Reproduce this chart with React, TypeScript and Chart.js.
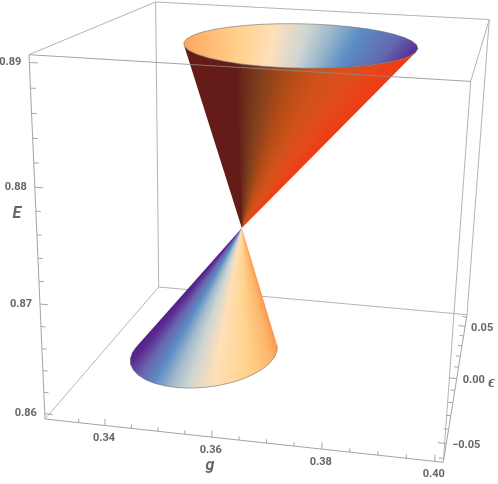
import React, { useEffect, useRef } from "react";
import { Chart, registerables } from "chart.js";

Chart.register(...registerables);

// ---- data ----
const gRange = [0.3285, 0.4015];
const epsRange = [-0.0625, 0.0625];
const eRange = [0.8595, 0.8906];

const gMajor = [0.34, 0.36, 0.38, 0.4];
const gMinor = [0.335, 0.345, 0.35, 0.355, 0.365, 0.37, 0.375, 0.385, 0.39, 0.395];
const eMajor = [0.86, 0.87, 0.88, 0.89];
const eMinor = [0.862, 0.864, 0.866, 0.868, 0.872, 0.874, 0.876, 0.878, 0.882, 0.884, 0.886, 0.888];
const epsMajor = [-0.05, 0, 0.05];
const epsMinor = [-0.06, -0.04, -0.03, -0.02, -0.01, 0.01, 0.02, 0.03, 0.04, 0.06];

const gTickLabels = ["0.34", "0.36", "0.38", "0.40"];
const eTickLabels = ["0.86", "0.87", "0.88", "0.89"];
const epsTickLabels = ["\u22120.05", "0.00", "0.05"];

const apex = { g: 0.3568, eps: 0, E: 0.87256 };

const upperRimE = 0.8901;
const upperRimG = [
  0.38925, 0.38796, 0.38608, 0.38365, 0.38076, 0.37749, 0.37395, 0.37023, 0.36644, 0.36273, 0.35918, 0.35591,
  0.35301, 0.35059, 0.3487, 0.34739, 0.34674, 0.34674, 0.34739, 0.34868, 0.35056, 0.35299, 0.35588, 0.35915,
  0.36269, 0.36641, 0.3702, 0.37391, 0.37746, 0.38073, 0.38363, 0.38605, 0.38794, 0.38925, 0.3899, 0.3899,
];
const upperRimEps = [
  0.00672, 0.01405, 0.02082, 0.02684, 0.03191, 0.03589, 0.03866, 0.04012, 0.04023, 0.03901, 0.03647, 0.0327,
  0.0278, 0.02195, 0.01529, 0.00804, 0.00042, -0.00733, -0.01498, -0.02231, -0.02908, -0.0351, -0.04017, -0.04415,
  -0.04692, -0.04838, -0.04849, -0.04727, -0.04473, -0.04096, -0.03606, -0.03021, -0.02355, -0.0163, -0.00868, -0.00093,
];

const lowerRimE = 0.8623;
const lowerRimG = [
  0.34239, 0.34093, 0.33982, 0.3391, 0.33879, 0.33891, 0.33943, 0.34035, 0.34165, 0.34328, 0.34518, 0.34731,
  0.34961, 0.352, 0.3544, 0.35674, 0.35896, 0.36098, 0.36275, 0.36421, 0.36532, 0.36604, 0.36635, 0.36623,
  0.36571, 0.36479, 0.36349, 0.36186,
];
const lowerRimEps = [
  -0.00361, -0.00798, -0.01278, -0.01786, -0.02306, -0.02822, -0.03318, -0.0378, -0.04192, -0.04544, -0.04824, -0.05024,
  -0.05137, -0.05161, -0.05093, -0.04937, -0.04697, -0.04381, -0.03997, -0.0356, -0.0308, -0.02572, -0.02052, -0.01536,
  -0.0104, -0.00578, -0.00166, 0.00186,
];

const innerStops: [number, string][] = [
  [0, "#fca65c"], [0.15, "#ffc07a"], [0.31, "#ffd596"], [0.435, "#ffdfbb"], [0.578, "#cdd5d3"],
  [0.68, "#97b6cc"], [0.785, "#5b8cc4"], [0.916, "#6368b0"], [1, "#5b2a8f"],
];
const outerStops: [number, string][] = [
  [0, "#651c19"], [0.25, "#651c19"], [0.29, "#6a2a1b"], [0.4, "#80401c"], [0.57, "#b44c18"],
  [0.72, "#d0521a"], [0.87, "#e24c1a"], [0.966, "#ec3f16"], [1, "#f23a10"],
];
const lowerStops: [number, string][] = [
  [0, "#51208a"], [0.04, "#5a2a90"], [0.12, "#6a64ae"], [0.205, "#5b8cc4"], [0.3, "#a2bacb"],
  [0.39, "#cdd5d3"], [0.53, "#ffdfb8"], [0.74, "#ffd48f"], [0.915, "#fdb76c"], [1, "#f9994f"],
];

// ---- fitted camera of the box ----
function project(g: number, eps: number, E: number) {
  const u = (g - gRange[0]) / (gRange[1] - gRange[0]);
  const v = (eps - epsRange[0]) / (epsRange[1] - epsRange[0]);
  const w = (E - eRange[0]) / (eRange[1] - eRange[0]);
  const d = 1 - 0.0502 * u + 0.2958 * v - 0.0951 * w;
  return {
    x: (45 + 376.05 * u + 160.64 * v - 18.76 * w) / d,
    y: (419 + 20.1 * u - 47.1 * v - 369.5 * w) / d,
  };
}

type P = { x: number; y: number };

const AXIS = "#b4b4b4";
const FRONT = "#a4a4a4";
const TEXT = "#666666";

function lineSet(pts: P[], color: string, width = 1) {
  return { data: pts, showLine: true, borderColor: color, borderWidth: width, pointRadius: 0, fill: false, tension: 0 };
}
function edge(a: number[], b: number[], color = AXIS) {
  return lineSet([project(a[0], a[1], a[2]), project(b[0], b[1], b[2])], color, 1);
}

function angleFrom(ap: P, p: P, start: number) {
  let a = Math.atan2(p.y - ap.y, p.x - ap.x) - start;
  while (a < 0) a += Math.PI * 2;
  return a;
}

function conic(chart: any, ap: P, rim: P[], stops: [number, string][], upward: boolean) {
  const xs = chart.scales.x;
  const ys = chart.scales.y;
  const cx = xs?.getPixelForValue(ap.x);
  const cy = ys?.getPixelForValue(ap.y);
  if (!Number.isFinite(cx) || !Number.isFinite(cy)) return "rgba(0,0,0,0)";
  const start = upward ? Math.PI / 2 : -Math.PI / 2;
  const angs = rim.map((p) => angleFrom(ap, p, start));
  const lo = Math.min(...angs);
  const hi = Math.max(...angs);
  const grad = chart.ctx.createConicGradient(start, cx, cy);
  stops.forEach(([t, c]) => {
    const a = upward ? lo + t * (hi - lo) : hi - t * (hi - lo);
    grad.addColorStop(a / (Math.PI * 2), c);
  });
  return grad;
}

function shape(pts: P[], bg: any) {
  return { data: pts, showLine: true, borderWidth: 0, borderColor: "transparent", pointRadius: 0, fill: "shape", tension: 0, backgroundColor: bg };
}

const labelPlugin = {
  id: "boxLabels",
  afterDraw(chart: any) {
    const { ctx, scales } = chart;
    const put = (text: string, p: P, dx: number, dy: number, font: string, col = TEXT) => {
      ctx.font = font;
      ctx.fillStyle = col;
      ctx.textAlign = "center";
      ctx.textBaseline = "middle";
      ctx.fillText(text, scales.x.getPixelForValue(p.x) + dx, scales.y.getPixelForValue(p.y) + dy);
    };
    const tickFont = "bold 11px Roboto";
    gMajor.forEach((g, i) => put(gTickLabels[i], project(g, epsRange[0], eRange[0]), -1, 13, tickFont));
    eMajor.forEach((e, i) => put(eTickLabels[i], project(gRange[0], epsRange[0], e), -19, 0, tickFont));
    epsMajor.forEach((e, i) => put(epsTickLabels[i], project(gRange[1], e, eRange[0]), i === 0 ? 20 : 17, 2, tickFont));
    const nameFont = "italic bold 16px Roboto";
    put("E", project(gRange[0], epsRange[0], 0.8778), -19, 0, nameFont);
    put("g", project(0.36, epsRange[0], eRange[0]), -2, 29, nameFont);
    put("\u03f5", project(gRange[1], 0, eRange[0]), 35, 4, nameFont);
  },
};

export default function App() {
  const ref = useRef<HTMLCanvasElement>(null);
  useEffect(() => {
    document.body.style.margin = "0";
    const [g0, g1] = gRange;
    const [p0, p1] = epsRange;
    const [e0, e1] = eRange;
    const ap = project(apex.g, apex.eps, apex.E);
    const upper = upperRimG.map((g, i) => project(g, upperRimEps[i], upperRimE));
    const lower = lowerRimG.map((g, i) => project(g, lowerRimEps[i], lowerRimE));

    // visible outer arcs run between the two silhouette tangents seen from the apex
    const upAngs = upper.map((p) => angleFrom(ap, p, Math.PI / 2));
    const upL = upAngs.indexOf(Math.min(...upAngs));
    const upR = upAngs.indexOf(Math.max(...upAngs));
    const upperFront: P[] = [];
    for (let i = upL; ; i = (i + 1) % upper.length) {
      upperFront.push(upper[i]);
      if (i === upR) break;
    }
    const lowAngs = lower.map((p) => angleFrom(ap, p, -Math.PI / 2));
    const lowL = lowAngs.indexOf(Math.max(...lowAngs));
    const lowR = lowAngs.indexOf(Math.min(...lowAngs));
    const lowerFront = lower.slice(lowL, lowR + 1);

    const painter: any[] = [];
    // back edges
    painter.push(edge([g0, p1, e0], [g1, p1, e0]));
    painter.push(edge([g0, p1, e0], [g0, p1, e1]));
    painter.push(edge([g1, p1, e0], [g1, p1, e1]));
    painter.push(edge([g0, p1, e1], [g1, p1, e1]));
    painter.push(edge([g0, p0, e0], [g0, p1, e0]));
    painter.push(edge([g0, p0, e1], [g0, p1, e1]));
    painter.push(edge([g1, p0, e1], [g1, p1, e1]));
    // surfaces
    painter.push(shape([...upper, upper[0]], (c: any) => conic(c.chart, ap, upper, innerStops, true)));
    painter.push(shape([ap, ...upperFront, ap], (c: any) => conic(c.chart, ap, upper, outerStops, true)));
    painter.push(lineSet([...upper, upper[0]], "rgba(110,110,110,0.75)", 0.8));
    painter.push(shape([ap, ...lowerFront, ap], (c: any) => conic(c.chart, ap, lower, lowerStops, false)));
    painter.push(lineSet(lowerFront, "rgba(110,110,110,0.75)", 0.8));
    // front edges
    painter.push(edge([g0, p0, e0], [g1, p0, e0], FRONT));
    painter.push(edge([g1, p0, e0], [g1, p1, e0], FRONT));
    painter.push(edge([g0, p0, e0], [g0, p0, e1], FRONT));
    painter.push(edge([g1, p0, e0], [g1, p0, e1]));
    painter.push(edge([g0, p0, e1], [g1, p0, e1], "rgba(140,140,140,0.8)"));
    // ticks
    gMajor.forEach((g) => painter.push(edge([g, p0, e0], [g, p0, e0 + 0.0006], FRONT)));
    gMinor.forEach((g) => painter.push(edge([g, p0, e0], [g, p0, e0 + 0.00035], FRONT)));
    eMajor.forEach((e) => painter.push(edge([g0, p0, e], [g0 + 0.0015, p0, e], FRONT)));
    eMinor.forEach((e) => painter.push(edge([g0, p0, e], [g0 + 0.0009, p0, e], FRONT)));
    epsMajor.forEach((e) => painter.push(edge([g1, e, e0], [g1 - 0.0015, e, e0], FRONT)));
    epsMinor.forEach((e) => painter.push(edge([g1, e, e0], [g1 - 0.0009, e, e0], FRONT)));

    const chart = new Chart(ref.current!, {
      type: "scatter",
      data: { datasets: painter.reverse() },
      options: {
        animation: false,
        responsive: false,
        layout: { padding: 0 },
        plugins: { legend: { display: false }, tooltip: { enabled: false } },
        scales: {
          x: { type: "linear", display: false, min: 0, max: 498 },
          y: { type: "linear", display: false, min: 0, max: 484, reverse: true },
        },
      },
      plugins: [labelPlugin],
    } as any);
    return () => chart.destroy();
  }, []);
  return <canvas ref={ref} width={498} height={484} style={{ display: "block" }} />;
}
